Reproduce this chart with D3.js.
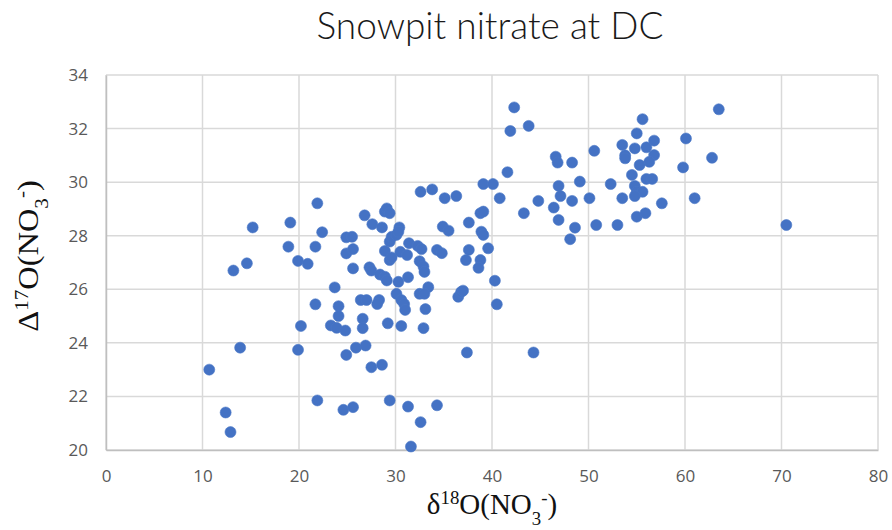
<!DOCTYPE html>
<html>
<head>
<meta charset="utf-8">
<script src="https://cdn.jsdelivr.net/npm/d3@7"></script>
<style>
  body { margin: 0; background: #fff; }
  svg { display: block; }
</style>
</head>
<body>
<div id="chart"></div>
<script>
// Snowpit samples: d18O(NO3-) vs D17O(NO3-)
var d18O = [10.7, 12.4, 12.9, 13.2, 13.9, 14.6, 15.2, 18.9, 19.1, 19.9, 19.9, 20.2, 20.9, 21.7, 21.9, 21.7, 21.9, 22.4,
    23.7, 23.3, 23.9, 24.1, 24.1, 24.8, 24.9, 24.6, 25.6, 24.9, 25.5, 24.9, 25.6, 25.6, 25.9, 26.9, 26.4, 27.0, 26.6, 26.6,
    26.8, 27.6, 28.6, 28.9, 29.1, 29.4, 27.3, 27.5, 28.4, 28.9, 29.1, 27.5, 28.6, 28.3, 28.1, 29.2, 29.4, 28.9, 29.4, 29.6,
    30.1, 30.4, 30.3, 29.4, 29.6, 30.5, 31.2, 31.4, 32.3, 32.7, 30.3, 31.3, 30.1, 30.6, 30.9, 31.0, 30.6, 31.3, 31.6, 32.6,
    32.6, 33.8, 35.1, 36.3, 32.5, 32.9, 33.0, 33.4, 32.5, 33.0, 33.1, 32.9, 34.3, 34.8, 34.9, 35.5, 34.3, 36.5, 36.8, 37.0,
    37.4, 37.3, 37.6, 37.6, 38.8, 39.1, 38.9, 39.1, 38.8, 38.6, 39.6, 39.1, 40.1, 40.3, 40.5, 40.8, 41.6, 41.9, 42.3, 43.8,
    43.3, 44.8, 44.3, 46.4, 46.9, 46.6, 46.8, 48.3, 46.9, 47.1, 48.3, 48.1, 48.6, 49.1, 50.1, 50.6, 50.8, 52.3, 53.0, 53.5,
    53.5, 53.8, 53.8, 54.8, 55.0, 55.6, 56.0, 56.8, 56.8, 56.3, 55.3, 54.5, 56.0, 56.6, 54.8, 55.0, 55.6, 54.8, 57.6, 55.0,
    55.9, 59.8, 60.1, 62.8, 61.0, 63.5, 70.5];
var D17O = [23.0, 21.4, 20.67, 26.7, 23.82, 26.97, 28.31, 27.59, 28.49, 27.06, 23.74, 24.63, 26.95, 27.59, 29.21, 25.44, 21.85, 28.13,
    26.07, 24.65, 24.56, 25.37, 25.0, 24.46, 23.55, 21.5, 21.6, 27.94, 27.96, 27.34, 27.5, 26.78, 23.82, 23.9, 25.6, 25.6, 24.9, 24.55,
    28.76, 28.43, 28.31, 28.9, 29.02, 28.84, 26.82, 26.7, 26.55, 26.47, 26.33, 23.09, 23.18, 25.6, 25.45, 24.73, 21.85, 27.43, 27.78, 27.96,
    28.03, 28.31, 28.15, 27.09, 27.19, 27.4, 27.28, 27.72, 27.62, 27.5, 26.28, 26.45, 25.83, 25.6, 25.45, 25.23, 24.63, 21.62, 20.13, 21.04,
    29.64, 29.73, 29.4, 29.48, 27.05, 26.85, 26.65, 26.08, 25.83, 25.83, 25.26, 24.55, 27.47, 27.35, 28.34, 28.19, 21.67, 25.72, 25.9, 25.95,
    23.64, 27.09, 27.47, 28.49, 28.84, 28.9, 28.15, 28.03, 27.09, 26.8, 27.53, 29.93, 29.93, 26.32, 25.44, 29.4, 30.37, 31.91, 32.79, 32.1,
    28.84, 29.3, 23.64, 29.05, 28.59, 30.95, 30.73, 30.73, 29.86, 29.48, 29.3, 27.87, 28.3, 30.02, 29.4, 31.17, 28.4, 29.93, 28.4, 29.4,
    31.39, 31.0, 30.89, 31.26, 31.82, 32.35, 31.3, 31.55, 31.01, 30.76, 30.64, 30.27, 30.12, 30.12, 29.86, 29.64, 29.64, 29.48, 29.21, 28.71,
    28.84, 30.55, 31.63, 30.91, 29.4, 32.72, 28.4];

var xTicks = [0, 10, 20, 30, 40, 50, 60, 70, 80];
var yTicks = [20, 22, 24, 26, 28, 30, 32, 34];

var width = 892, height = 530;
var margin = {top: 75, right: 14, bottom: 80, left: 106};

var svg = d3.select("#chart").append("svg")
    .attr("width", width)
    .attr("height", height);

var x = d3.scaleLinear().domain([0, 80]).range([margin.left, width - margin.right]);
var y = d3.scaleLinear().domain([20, 34]).range([height - margin.bottom, margin.top]);

// Gridlines
svg.append("g").selectAll("line")
    .data(xTicks)
    .enter().append("line")
    .attr("x1", function(d) { return x(d); })
    .attr("x2", function(d) { return x(d); })
    .attr("y1", y(20))
    .attr("y2", y(34))
    .attr("stroke", "#d9d9d9")
    .attr("stroke-width", 1.5);

svg.append("g").selectAll("line")
    .data(yTicks)
    .enter().append("line")
    .attr("x1", x(0))
    .attr("x2", x(80))
    .attr("y1", function(d) { return y(d); })
    .attr("y2", function(d) { return y(d); })
    .attr("stroke", "#d9d9d9")
    .attr("stroke-width", 1.5);

// Axes (labels only, the lines come from the grid)
var xAxis = svg.append("g")
    .attr("transform", "translate(0," + y(20) + ")")
    .call(d3.axisBottom(x).tickValues(xTicks).tickSize(0).tickPadding(20));
var yAxis = svg.append("g")
    .attr("transform", "translate(" + x(0) + ",0)")
    .call(d3.axisLeft(y).tickValues(yTicks).tickSize(0).tickPadding(18));

[xAxis, yAxis].forEach(function(a) {
    a.select(".domain").attr("stroke", "#bfbfbf").attr("stroke-width", 1.5);
    a.selectAll("text")
        .attr("fill", "#595959")
        .style("font-family", "'Open Sans', sans-serif")
        .style("font-size", "17px");
});

// Points
svg.append("g").selectAll("circle")
    .data(d18O.map(function(v, i) { return [v, D17O[i]]; }))
    .enter().append("circle")
    .attr("cx", function(d) { return x(d[0]); })
    .attr("cy", function(d) { return y(d[1]); })
    .attr("r", 5.5)
    .attr("fill", "#4472c4")
    .attr("stroke", "#4a77c6")
    .attr("stroke-width", 0.6);

// Title
svg.append("text")
    .attr("x", 490)
    .attr("y", 39)
    .attr("text-anchor", "middle")
    .attr("fill", "#1a1a1a")
    .style("font-family", "Lato, 'Open Sans', sans-serif")
    .style("font-weight", 300)
    .style("font-size", "37px")
    .text("Snowpit nitrate at DC");

// Axis titles
function isotopeLabel(sel, symbol, mass) {
    sel.append("tspan").text(symbol);
    sel.append("tspan").attr("baseline-shift", "super").style("font-size", "0.65em").text(mass);
    sel.append("tspan").text("O(NO");
    sel.append("tspan").attr("baseline-shift", "sub").style("font-size", "0.65em").text("3");
    sel.append("tspan").attr("baseline-shift", "super").style("font-size", "0.65em").text("-");
    sel.append("tspan").text(")");
}

// the source picture is a bit stretched vertically, so the titles are too
var xTitle = svg.append("text")
    .attr("transform", "translate(492,514) scale(1,1.05)")
    .attr("text-anchor", "middle")
    .attr("fill", "#111")
    .style("font-family", "'Liberation Serif', 'Times New Roman', serif")
    .style("font-size", "29px");
isotopeLabel(xTitle, "\u03b4", "18");

var yTitle = svg.append("text")
    .attr("transform", "translate(38,256) rotate(-90) scale(1.12,1)")
    .attr("text-anchor", "middle")
    .attr("fill", "#111")
    .style("font-family", "'Liberation Serif', 'Times New Roman', serif")
    .style("font-size", "29px");
isotopeLabel(yTitle, "\u0394", "17");
</script>
</body>
</html>
